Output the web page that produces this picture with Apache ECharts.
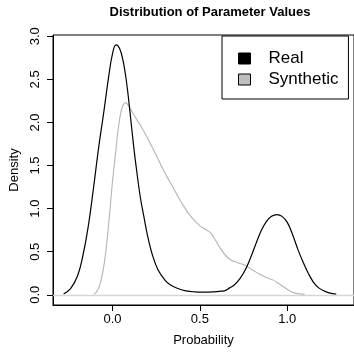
<!DOCTYPE html>
<html>
<head>
<meta charset="utf-8">
<script src="https://cdn.jsdelivr.net/npm/echarts@6/dist/echarts.min.js"></script>
<style>html,body{margin:0;padding:0;background:#fff;}#c{width:354px;height:352px;}</style>
</head>
<body>
<div id="c"></div>
<script>
// ---- data ----
const realX = [-0.28,-0.24,-0.20,-0.17,-0.14,-0.11,-0.08,-0.05,-0.02,0.00,0.02,0.04,0.06,0.08,0.10,0.12,0.14,0.16,0.18,0.20,0.23,0.26,0.30,0.33,0.37,0.42,0.47,0.52,0.57,0.61,0.64,0.67,0.70,0.73,0.76,0.79,0.82,0.85,0.88,0.91,0.94,0.97,1.00,1.03,1.06,1.09,1.12,1.15,1.18,1.21,1.24,1.28];
const realY = [0.01,0.07,0.22,0.45,0.78,1.22,1.70,2.12,2.56,2.80,2.90,2.86,2.72,2.47,2.12,1.74,1.41,1.12,0.90,0.69,0.45,0.29,0.17,0.115,0.075,0.046,0.034,0.031,0.033,0.040,0.046,0.08,0.12,0.19,0.29,0.43,0.59,0.74,0.85,0.91,0.93,0.91,0.84,0.70,0.53,0.38,0.25,0.145,0.08,0.045,0.022,0.008];
const synX = [-0.107,-0.09,-0.075,-0.06,-0.045,-0.03,-0.015,0.0,0.015,0.03,0.045,0.06,0.075,0.09,0.11,0.14,0.17,0.20,0.23,0.26,0.29,0.32,0.35,0.38,0.41,0.44,0.47,0.50,0.53,0.56,0.59,0.62,0.65,0.68,0.72,0.76,0.80,0.84,0.88,0.92,0.95,0.98,1.01,1.04,1.07,1.10];
const synY = [0.005,0.04,0.10,0.22,0.40,0.66,0.98,1.32,1.60,1.88,2.09,2.20,2.23,2.20,2.13,2.03,1.93,1.82,1.70,1.58,1.45,1.34,1.23,1.12,1.02,0.93,0.86,0.80,0.76,0.72,0.63,0.53,0.45,0.40,0.37,0.34,0.29,0.24,0.20,0.17,0.13,0.09,0.05,0.022,0.01,0.005];
const xTicks = [0, 0.5, 1.0];
const yTicks = [0, 0.5, 1.0, 1.5, 2.0, 2.5, 3.0];
const seriesNames = ['Real', 'Synthetic'];
const titleText = 'Distribution of Parameter Values';
const xName = 'Probability';
const yName = 'Density';

const FONT = '"Liberation Sans", Arial, Helvetica, sans-serif';
const pair = (xs, ys) => xs.map((x, i) => [x, ys[i]]);

const chart = echarts.init(document.getElementById('c'), null, {renderer: 'canvas'});
chart.setOption({
  animation: false,
  backgroundColor: '#ffffff',
  textStyle: {fontFamily: FONT},
  title: {
    text: titleText,
    left: 205, top: 1, textAlign: 'center',
    textStyle: {fontFamily: FONT, fontSize: 13, fontWeight: 'bold', color: '#000'}
  },
  legend: {
    orient: 'vertical',
    left: 222, top: 36,
    padding: [14, 10, 11, 16],
    itemGap: 4,
    itemWidth: 12, itemHeight: 11,
    backgroundColor: '#fff',
    borderColor: '#000', borderWidth: 1, borderRadius: 0,
    textStyle: {fontFamily: FONT, fontSize: 17, color: '#000', padding: [0, 0, 0, 13]},
    data: [
      {name: seriesNames[0], icon: 'rect', itemStyle: {color: '#000', borderColor: '#000', borderWidth: 1}},
      {name: seriesNames[1], icon: 'rect', itemStyle: {color: '#bebebe', borderColor: '#000', borderWidth: 1}}
    ]
  },
  grid: {
    left: 53, top: 35, width: 310, height: 272,
    show: true, borderColor: '#000', borderWidth: 1, backgroundColor: 'transparent'
  },
  xAxis: {
    type: 'value', min: -0.3406, max: 1.3817,
    name: xName, nameLocation: 'middle', nameGap: 29,
    nameTextStyle: {fontFamily: FONT, fontSize: 13, color: '#000'},
    axisLine: {show: true, onZero: false, lineStyle: {color: '#000', width: 1}},
    axisTick: {show: true, length: 6, inside: false, customValues: xTicks, lineStyle: {color: '#000'}},
    axisLabel: {show: true, margin: 8, customValues: xTicks, fontFamily: FONT, fontSize: 13, color: '#000',
      formatter: v => v.toFixed(1)},
    splitLine: {show: false}
  },
  yAxis: {
    type: 'value', min: -0.1187, max: 3.015,
    name: yName, nameLocation: 'middle', nameGap: 32,
    nameTextStyle: {fontFamily: FONT, fontSize: 13, color: '#000'},
    axisLine: {show: true, onZero: false, lineStyle: {color: '#000', width: 1}},
    axisTick: {show: true, length: 6, inside: false, customValues: yTicks, lineStyle: {color: '#000'}},
    axisLabel: {show: true, rotate: 90, margin: 11, customValues: yTicks, fontFamily: FONT, fontSize: 13, color: '#000',
      formatter: v => v.toFixed(1)},
    splitLine: {show: false}
  },
  series: [
    {
      name: seriesNames[1], type: 'line', data: pair(synX, synY),
      smooth: 0.4, symbol: 'none', clip: true,
      itemStyle: {color: '#bebebe'},
      lineStyle: {color: '#b4b4b4', width: 1.1},
      markLine: {
        silent: true, symbol: 'none', label: {show: false},
        lineStyle: {color: '#d6d6d6', width: 1.3, type: 'solid'},
        data: [{yAxis: 0}]
      },
      z: 2
    },
    {
      name: seriesNames[0], type: 'line', data: pair(realX, realY),
      smooth: 0.4, symbol: 'none', clip: true,
      itemStyle: {color: '#000'},
      lineStyle: {color: '#000', width: 1.2},
      z: 3
    }
  ]
});
</script>
</body>
</html>
